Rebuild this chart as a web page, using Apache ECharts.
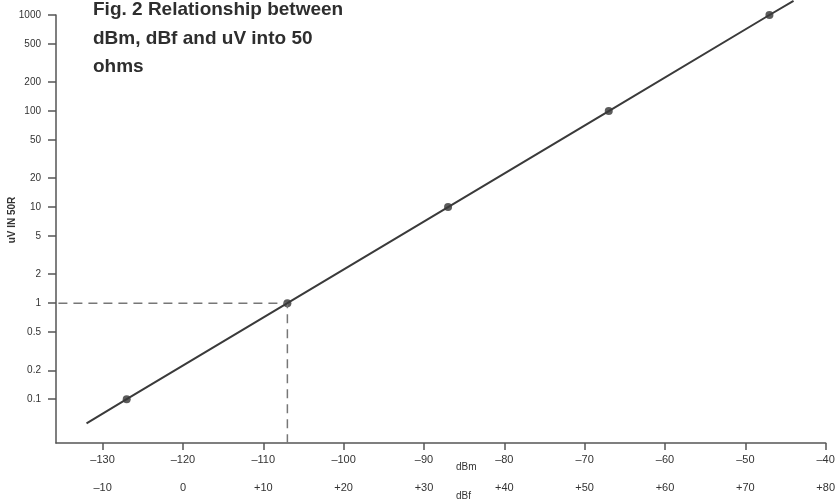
<!DOCTYPE html>
<html><head><meta charset="utf-8">
<script src="https://cdn.jsdelivr.net/npm/echarts@6/dist/echarts.min.js"></script>
<style>html,body{margin:0;padding:0;background:#fff}#c{width:838px;height:500px}</style>
</head><body><div id="c"></div>
<script>
const titleLines = ['Fig. 2 Relationship between', 'dBm, dBf and uV into 50', 'ohms'];
const yAxisTitle = 'uV IN 50R';
const yTickValues = [0.1, 0.2, 0.5, 1, 2, 5, 10, 20, 50, 100, 200, 500, 1000];
const dbmTicks = [-130, -120, -110, -100, -90, -80, -70, -60, -50, -40];
const dbfTicks = [-10, 0, 10, 20, 30, 40, 50, 60, 70, 80];
const markerDbm = [-127, -107, -87, -67, -47];
const markerUv = [0.1, 1, 10, 100, 1000];
const lineDbm = [-132, -127, -107, -87, -67, -47, -44];
const lineUv = [0.056, 0.1, 1, 10, 100, 1000, 1400];
const refDbm = [-135.5, -107, -107];
const refUv = [1, 1, 0.035];
const unitLabels = ['dBm', 'dBf'];

const zip = (a, b) => a.map((v, i) => [v, b[i]]);
const signed = v => v > 0 ? '+' + v : (v < 0 ? '\u2013' + (-v) : '0');
const neg = v => v < 0 ? '\u2013' + (-v) : String(v);
const FONT = 'Liberation Sans, Arial, sans-serif';
const chart = echarts.init(document.getElementById('c'), null, {renderer: 'canvas'});
chart.setOption({
  animation: false,
  backgroundColor: '#fff',
  title: {
    text: titleLines.join('\n'), left: 93, top: -4, padding: 0,
    textStyle: {fontFamily: FONT, fontSize: 19, fontWeight: 'bold', color: '#2e2e2e', lineHeight: 28.5}
  },
  grid: {left: 56, right: 7, top: 15, bottom: 57, containLabel: false},
  xAxis: [{
    type: 'value', min: -135.8, max: -40, position: 'bottom',
    axisLine: {show: true, onZero: false, lineStyle: {color: '#555', width: 1.5}},
    axisTick: {show: true, length: 7, customValues: dbmTicks, lineStyle: {color: '#555', width: 1.5}},
    axisLabel: {customValues: dbmTicks, formatter: neg, margin: 11, fontFamily: FONT, fontSize: 11, color: '#333'},
    splitLine: {show: false}
  }, {
    type: 'value', min: -15.8, max: 80, position: 'bottom', offset: 28,
    axisLine: {show: false, onZero: false}, axisTick: {show: false},
    axisLabel: {customValues: dbfTicks, formatter: signed, margin: 11, fontFamily: FONT, fontSize: 11, color: '#333'},
    splitLine: {show: false}
  }],
  yAxis: {
    type: 'log', logBase: 10, min: 0.035, max: 1000,
    axisLine: {show: true, onZero: false, lineStyle: {color: '#555', width: 1.5}},
    axisTick: {show: true, length: 8, customValues: yTickValues, lineStyle: {color: '#555', width: 1.5}},
    axisLabel: {customValues: yTickValues, formatter: v => String(+(+v).toPrecision(6)), margin: 15, fontFamily: FONT, fontSize: 10, color: '#333'},
    splitLine: {show: false}, minorTick: {show: false}
  },
  graphic: [
    {type: 'text', x: 12, y: 220, rotation: Math.PI / 2,
     style: {text: yAxisTitle, fontFamily: FONT, fontSize: 10, fontWeight: 'bold', fill: '#333', align: 'center', verticalAlign: 'middle'}},
    {type: 'text', x: 456, y: 467, style: {text: unitLabels[0], fontFamily: FONT, fontSize: 10, fill: '#333', verticalAlign: 'middle'}},
    {type: 'text', x: 456, y: 496, style: {text: unitLabels[1], fontFamily: FONT, fontSize: 10, fill: '#333', verticalAlign: 'middle'}}
  ],
  series: [{
    type: 'line', data: zip(refDbm, refUv), symbol: 'none', clip: false,
    lineStyle: {color: '#777', width: 1.5, type: [9, 6]}
  }, {
    type: 'line', data: zip(lineDbm, lineUv), symbol: 'none', clip: false,
    lineStyle: {color: '#3a3a3a', width: 2}
  }, {
    type: 'scatter', data: zip(markerDbm, markerUv), symbolSize: 8, clip: false,
    itemStyle: {color: '#333'}
  }]
});
</script></body></html>
